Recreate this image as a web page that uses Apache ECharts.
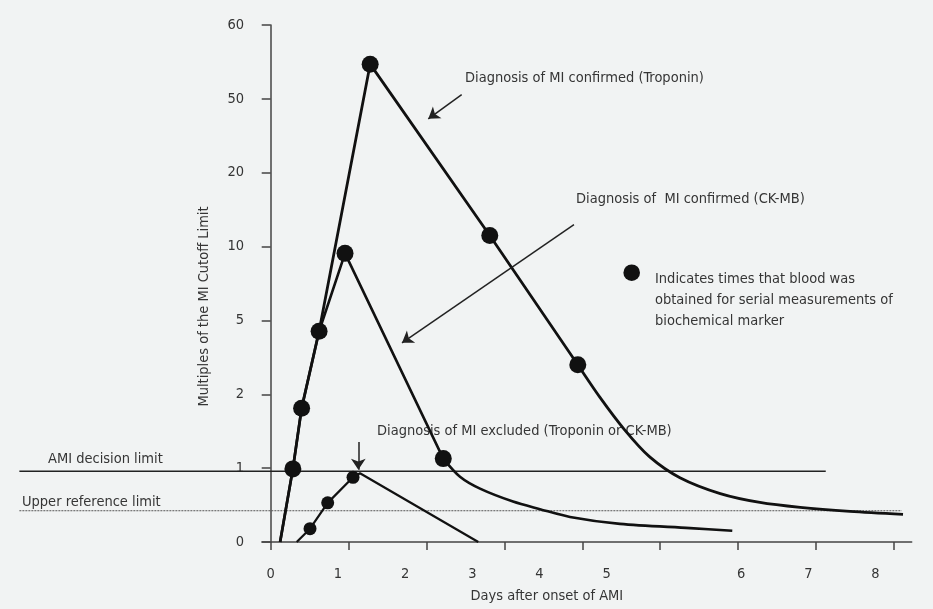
<!DOCTYPE html>
<html><head><meta charset="utf-8">
<script src="https://cdn.jsdelivr.net/npm/echarts@6/dist/echarts.min.js"></script>
<style>html,body{margin:0;padding:0;background:#f1f3f3}#c{width:933px;height:609px}</style>
</head><body><div id="c"></div><script>
// ---- axis tick labels ----
const yTickLabels = [0, 1, 2, 5, 10, 20, 50, 60];        // equally spaced on the printed axis
const dayLabels   = ['0', '1', '2', '3', '4', '5', '6', '7', '8'];
const dayLabelPos = [0, 1, 2, 3, 4, 5, 7, 8, 9];          // where the printed day labels sit (label units)
const dayTickPos  = [0, 1, 2, 3, 4, 5, 6, 7, 8];          // tick marks (tick units)

// ---- curves (x in label units, y in multiples of MI cutoff) ----
// Troponin: straight rise and fall, then a smooth tail
const tropX = [0.14, 0.33, 0.46, 0.72, 1.48, 3.26, 4.57, 4.90, 5.27, 5.64, 6.09, 6.69, 7.28, 7.88, 8.62, 9.41];
const tropY = [0, 0.99, 1.81, 4.56, 54.7, 11.5, 3.2, 1.958, 1.515, 1.152, 0.870, 0.655, 0.535, 0.468, 0.414, 0.374];
const tropTailFrom = 6;
// CK-MB
const ckX = [0.14, 0.33, 0.46, 0.72, 1.106, 2.568, 2.817, 3.115, 3.606, 4.007, 4.454, 5.198, 6.24, 6.869];
const ckY = [0, 0.99, 1.81, 4.56, 9.54, 1.129, 0.883, 0.722, 0.547, 0.445, 0.339, 0.245, 0.188, 0.153];
const ckTailFrom = 5;
// MI excluded
const exclX = [0.387, 0.585, 0.848, 1.225, 1.329, 3.089];
const exclY = [0, 0.18, 0.53, 0.876, 0.93, 0];

// ---- blood sampling times (dots) ----
const tropDotX = [0.33, 0.46, 0.72, 1.48, 3.26, 4.57];
const tropDotY = [0.99, 1.81, 4.56, 54.7, 11.5, 3.2];
const ckDotX = [1.106, 2.568];
const ckDotY = [9.54, 1.129];
const exclDotX = [0.585, 0.848, 1.225];
const exclDotY = [0.18, 0.53, 0.876];

// ---- reference limits ----
const amiLimit = 1;
const amiLineX = [-3.74, 8.26];
const upperRef = 0.47;
const upperRefX = [-3.74, 9.39];

// ---- arrows [x1, y1, x2, y2] ----
const arrowTrop = [2.842, 50.56, 2.345, 41.9];
const arrowCk   = [4.513, 12.97, 1.954, 4.09];
const arrowExcl = [1.304, 1.354, 1.304, 0.977];

// map a multiple to the equally spaced printed axis
function toAxis(v) {
  for (let i = 0; i < yTickLabels.length - 1; i++) {
    const a = yTickLabels[i], b = yTickLabels[i + 1];
    if (v <= b || i === yTickLabels.length - 2) return i + (v - a) / (b - a);
  }
}
const pts = (xs, ys) => xs.map((x, i) => [x, toAxis(ys[i])]);
const arrow = a => ({ coords: [[a[0], toAxis(a[1])], [a[2], toAxis(a[3])]] });

const FONT = '"DejaVu Sans Condensed", "Liberation Sans", sans-serif';
const FS = 14.5;
const TXT = '#353535';
const INK = '#111111';

const chart = echarts.init(document.getElementById('c'));
const gTop = 25, gBottom = 63.3, gRight = 21.3;
const curve = (name, data, width, smooth) => ({
  type: 'line', name, xAxisIndex: 0, yAxisIndex: 0, data, smooth: smooth || false,
  symbol: 'none', lineStyle: { color: INK, width }, z: 3
});

chart.setOption({
  backgroundColor: '#f1f3f3',
  animation: false,
  textStyle: { fontFamily: FONT },
  grid: [
    { left: 262, right: gRight, top: gTop, bottom: gBottom },
    { left: 19.3, right: gRight, top: gTop, bottom: gBottom }
  ],
  xAxis: [
    { // day labels
      type: 'value', gridIndex: 0, position: 'bottom', min: -0.1295, max: 9.539,
      axisLine: { show: true, lineStyle: { color: '#444', width: 1.5 } },
      axisTick: { show: false }, splitLine: { show: false },
      axisLabel: { customValues: dayLabelPos, margin: 25, color: TXT, fontSize: FS, fontFamily: FONT,
        formatter: v => dayLabels[dayLabelPos.indexOf(Math.round(v))] },
      name: 'Days after onset of AMI', nameLocation: 'middle', nameGap: 47,
      nameTextStyle: { color: TXT, fontSize: FS, fontFamily: FONT, padding: [0, 80, 0, 0] }
    },
    { // tick marks
      type: 'value', gridIndex: 0, position: 'bottom', min: -0.1117, max: 8.229,
      axisLine: { show: false }, splitLine: { show: false }, axisLabel: { show: false },
      axisTick: { show: true, customValues: dayTickPos, length: 8, lineStyle: { color: '#444', width: 1.5 } }
    },
    { type: 'value', gridIndex: 1, min: -3.741, max: 9.539, show: false }
  ],
  yAxis: [
    {
      type: 'value', gridIndex: 0, min: 0, max: 7, interval: 1,
      axisLine: { show: true, onZero: true, lineStyle: { color: '#444', width: 1.5 } },
      axisTick: { show: true, length: 9, lineStyle: { color: '#444', width: 1.5 } },
      splitLine: { show: false },
      axisLabel: { margin: 18, color: TXT, fontSize: FS, fontFamily: FONT, formatter: v => String(yTickLabels[v]) },
      name: 'Multiples of the MI Cutoff Limit', nameLocation: 'middle', nameGap: 50,
      nameTextStyle: { color: TXT, fontSize: FS, fontFamily: FONT, padding: [0, 46, 0, 0] }
    },
    { type: 'value', gridIndex: 1, min: 0, max: 7, show: false }
  ],
  series: [
    { type: 'line', name: 'AMI decision limit', xAxisIndex: 2, yAxisIndex: 1, data: amiLineX.map(x => [x, toAxis(amiLimit)]),
      symbol: 'none', lineStyle: { color: '#222', width: 1.4 }, z: 1 },
    { type: 'line', name: 'Upper reference limit', xAxisIndex: 2, yAxisIndex: 1, data: upperRefX.map(x => [x, toAxis(upperRef)]),
      symbol: 'none', lineStyle: { color: '#555', width: 1, type: [2, 1] }, z: 1 },
    curve('Troponin', pts(tropX, tropY).slice(0, tropTailFrom + 1), 2.8),
    curve('Troponin tail', pts(tropX, tropY).slice(tropTailFrom), 2.8, 0.3),
    curve('CK-MB', pts(ckX, ckY).slice(0, ckTailFrom + 1), 2.6),
    curve('CK-MB tail', pts(ckX, ckY).slice(ckTailFrom), 2.6, 0.3),
    curve('Excluded', pts(exclX, exclY), 2.2),
    { type: 'scatter', xAxisIndex: 0, yAxisIndex: 0, data: pts(tropDotX, tropDotY).concat(pts(ckDotX, ckDotY)),
      symbolSize: 17, itemStyle: { color: INK, opacity: 1 }, z: 5 },
    { type: 'scatter', xAxisIndex: 0, yAxisIndex: 0, data: pts(exclDotX, exclDotY),
      symbolSize: 13, itemStyle: { color: INK, opacity: 1 }, z: 5 },
    { type: 'lines', coordinateSystem: 'cartesian2d', xAxisIndex: 0, yAxisIndex: 0,
      data: [arrow(arrowTrop), arrow(arrowCk), arrow(arrowExcl)],
      symbol: ['none', 'arrow'], symbolSize: 11,
      lineStyle: { color: '#222', width: 1.5, opacity: 1 }, z: 6 }
  ],
  graphic: [
    { type: 'text', left: 48, top: 452, style: { text: 'AMI decision limit', font: FS + 'px ' + FONT, fill: TXT } },
    { type: 'text', left: 22, top: 494.5, style: { text: 'Upper reference limit', font: FS + 'px ' + FONT, fill: TXT } },
    { type: 'text', left: 465, top: 71, style: { text: 'Diagnosis of MI confirmed (Troponin)', font: FS + 'px ' + FONT, fill: TXT } },
    { type: 'text', left: 576, top: 192, style: { text: 'Diagnosis of  MI confirmed (CK-MB)', font: FS + 'px ' + FONT, fill: TXT } },
    { type: 'text', left: 377, top: 423.5, style: { text: 'Diagnosis of MI excluded (Troponin or CK-MB)', font: FS + 'px ' + FONT, fill: TXT } },
    { type: 'circle', shape: { cx: 631.7, cy: 272.7, r: 8.3 }, style: { fill: INK } },
    { type: 'text', left: 655, top: 269, style: { text: 'Indicates times that blood was\nobtained for serial measurements of\nbiochemical marker', font: FS + 'px ' + FONT, fill: TXT, lineHeight: 20.7 } }
  ]
});
</script></body></html>
